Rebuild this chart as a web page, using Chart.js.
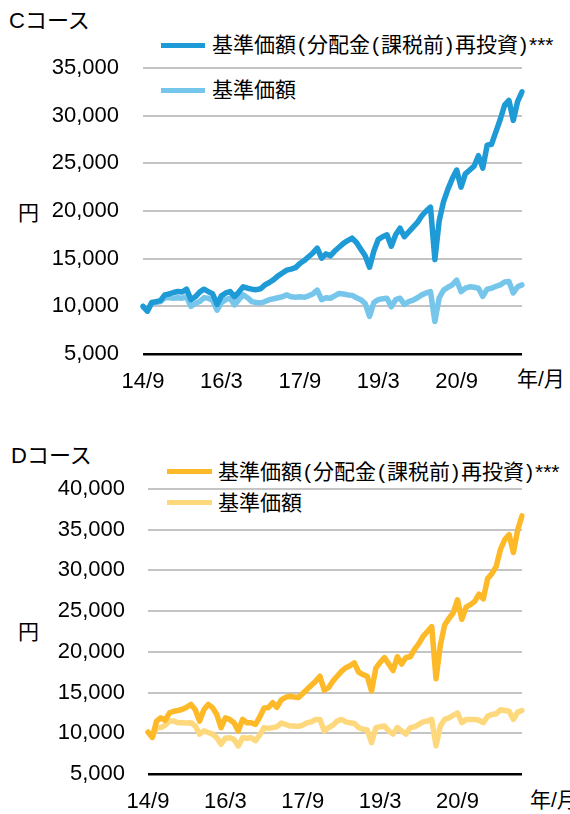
<!DOCTYPE html>
<html lang="ja">
<head>
<meta charset="utf-8">
<script src="https://cdn.jsdelivr.net/npm/chart.js@4/dist/chart.umd.min.js"></script>
<style>
  html, body { margin: 0; padding: 0; background: #fff; }
  body { width: 570px; height: 814px; position: relative; overflow: hidden;
         font-family: "Liberation Sans", Arial, "Noto Sans CJK JP", sans-serif; color: #000; }
  canvas { position: absolute; left: 0; }
  .txt { position: absolute; white-space: nowrap; line-height: 30px; height: 30px; }
  .title { font-size: 22px; }
  .unit { font-size: 21px; }
  .leg { font-size: 21px; }
  .leg .p { padding: 0 2px; }
  .swatch { position: absolute; height: 5px; }
</style>
</head>
<body>

<div class="txt title" style="left:9px; top:6px;">Cコース</div>
<div class="swatch" style="left:161px; top:43px; width:44px; background:#1e9ad6;"></div>
<div class="txt leg" style="left:212px; top:30px;">基準価額<span class="p">(</span>分配金<span class="p">(</span>課税前<span class="p">)</span>再投資<span class="p">)</span>***</div>
<div class="swatch" style="left:161px; top:88px; width:44px; background:#76c6ec;"></div>
<div class="txt leg" style="left:212px; top:75px;">基準価額</div>
<div class="txt unit" style="left:18px; top:198px;">円</div>
<div class="txt unit" style="left:517px; top:364px;">年/月</div>
<canvas id="chartC" width="570" height="400" style="top:0;"></canvas>

<div class="txt title" style="left:11px; top:441px;">Dコース</div>
<div class="swatch" style="left:167px; top:469px; width:45px; background:#fdb927;"></div>
<div class="txt leg" style="left:218px; top:457px;">基準価額<span class="p">(</span>分配金<span class="p">(</span>課税前<span class="p">)</span>再投資<span class="p">)</span>***</div>
<div class="swatch" style="left:167px; top:500px; width:45px; background:#fed87c;"></div>
<div class="txt leg" style="left:218px; top:488px;">基準価額</div>
<div class="txt unit" style="left:18px; top:617px;">円</div>
<div class="txt unit" style="left:530px; top:785px;">年/月</div>
<canvas id="chartD" width="570" height="384" style="top:430px;"></canvas>

<script>
// --- Data (monthly, 2014/9 - 2021/12) ---
const tickLabels = ['14/9', '16/3', '17/9', '19/3', '20/9'];

const cReinvest = [
  10000, 9500, 10400, 10500, 10600, 11200, 11300, 11450, 11550, 11500,
  11800, 10700, 11000, 11500, 11800, 11550, 11300, 10200, 11100, 11400,
  11550, 11000, 11500, 12050, 11900, 11800, 11750, 11850, 12250, 12500,
  12800, 13200, 13500, 13800, 13900, 14050, 14500, 14800, 15200, 15600,
  16100, 15050, 15500, 15300, 15800, 16200, 16600, 16900, 17150, 16700,
  16000, 15300, 14100, 15800, 17000, 17300, 17500, 16300, 17500, 18200,
  17300, 17800, 18300, 18800, 19500, 20000, 20400, 14900, 19000, 21000,
  22300, 23400, 24300, 22500, 23900, 24300, 24700, 25800, 24500, 26900,
  27000, 28300, 29600, 31100, 31600, 29500, 31500, 32500
];
const cBase = [
  10000, 9500, 10300, 10400, 10500, 10900, 10900, 10850, 10900, 10850,
  11000, 10000, 10300, 10500, 10900, 10850, 10600, 9600, 10400, 10700,
  10850, 10150, 10700, 11200, 10900, 10500, 10400, 10350, 10500, 10700,
  10800, 10900, 11000, 11200, 11000, 10950, 11000, 10950, 11100, 11300,
  11700, 10700, 10900, 10850, 11100, 11350, 11300, 11200, 11150, 10900,
  10700, 10300, 8950, 10400, 10700, 10800, 10850, 9950, 10700, 10850,
  10200, 10500, 10650, 10900, 11200, 11400, 11550, 8400, 10900, 11700,
  12000, 12250, 12750, 11550, 11900, 12050, 12000, 11900, 11050, 11800,
  11900, 12100, 12250, 12550, 12600, 11400, 12050, 12250
];

const dReinvest = [
  10150, 9500, 11500, 11900, 11600, 12500, 12700, 12800, 12950, 13200,
  13550, 12900, 11500, 12900, 13550, 13150, 12300, 10700, 11900, 11700,
  11300, 10300, 11700, 11300, 11300, 11100, 12000, 13100, 13150, 13750,
  13200, 14100, 14400, 14550, 14450, 14400, 14900, 15400, 15900, 16400,
  17000, 15300, 15600, 16400, 17000, 17600, 18050, 18300, 18650, 17500,
  17200, 17000, 15200, 18000, 18700, 19300, 18500, 17700, 19400, 18500,
  19300, 19400, 20300, 21000, 21900, 22500, 23100, 16700, 20800, 23300,
  24100, 24800, 26400, 24000, 25500, 25800, 26200, 27100, 26500, 29000,
  29600, 30500, 32600, 33800, 34400, 32200, 35000, 36700
];
const dBase = [
  10150, 9500, 10700, 10700, 11000, 11500, 11500, 11300, 11300, 11250,
  11300, 10900, 9900, 10300, 10100, 9900, 9450, 8650, 9400, 9450,
  9250, 8450, 9450, 9400, 9450, 9100, 9800, 10700, 10600, 10700,
  10800, 11250, 11100, 10900, 10900, 10850, 11000, 11300, 11400, 11700,
  11700, 10300, 10700, 11000, 11500, 11700, 11400, 11300, 11200, 10700,
  10500, 10400, 8850, 10700, 10800, 10900, 10300, 9900, 10700, 10300,
  9900, 10700, 10800, 11100, 11400, 11500, 11700, 8450, 10900, 11700,
  11900, 12200, 12500, 11300, 11700, 11700, 11700, 11600, 11300, 12100,
  12300, 12400, 12900, 12800, 12700, 11700, 12600, 12800
];

// month labels for the category axis
const months = [];
for (let i = 0; i < cReinvest.length; i++) {
  const t = 2014 * 12 + 8 + i;
  months.push(String(Math.floor(t / 12) % 100) + '/' + (t % 12 + 1));
}

const numFont = { family: '"Liberation Sans", Arial, sans-serif', size: 22 };

function makeChart(id, opts) {
  return new Chart(document.getElementById(id), {
    type: 'line',
    data: {
      labels: months,
      datasets: [
        { data: opts.dark, borderColor: opts.darkColor, borderWidth: 5.5, pointRadius: 0,
          borderJoinStyle: 'round', borderCapStyle: 'round', tension: 0 },
        { data: opts.light, borderColor: opts.lightColor, borderWidth: 5.5, pointRadius: 0,
          borderJoinStyle: 'round', borderCapStyle: 'round', tension: 0 }
      ]
    },
    options: {
      responsive: false,
      animation: false,
      devicePixelRatio: 1,
      layout: { padding: { top: opts.top, right: opts.right, left: 0, bottom: 0 } },
      plugins: { legend: { display: false }, tooltip: { enabled: false } },
      scales: {
        x: {
          type: 'category',
          offset: false,
          grid: { display: false, drawTicks: false },
          border: { display: false },
          ticks: {
            autoSkip: false, maxRotation: 0, minRotation: 0,
            color: '#000', font: numFont, padding: opts.xPad,
            callback: (v, i) => (i % 18 === 0 && i / 18 < tickLabels.length) ? tickLabels[i / 18] : ''
          },
          afterFit: (s) => { s.height = opts.xHeight; }
        },
        y: {
          min: 5000, max: opts.max,
          grid: {
            drawTicks: false,
            color: (c) => c.tick && c.tick.value === 5000 ? '#000' : '#c4c4c4',
            lineWidth: (c) => c.tick && c.tick.value === 5000 ? 2.5 : 2
          },
          border: { display: false },
          ticks: {
            stepSize: 5000, color: '#000', font: numFont, padding: opts.yPad,
            callback: (v) => v.toLocaleString('en-US')
          },
          afterFit: (s) => { s.width = opts.yWidth; }
        }
      }
    }
  });
}

makeChart('chartC', {
  dark: cReinvest, light: cBase, darkColor: '#1e9ad6', lightColor: '#76c6ec',
  max: 35000, top: 68, right: 48, yWidth: 143, yPad: 24, xHeight: 46, xPad: 15
});

makeChart('chartD', {
  dark: dReinvest, light: dBase, darkColor: '#fdb927', lightColor: '#fed87c',
  max: 40000, top: 59, right: 48, yWidth: 148, yPad: 23, xHeight: 40, xPad: 15
});
</script>
</body>
</html>
